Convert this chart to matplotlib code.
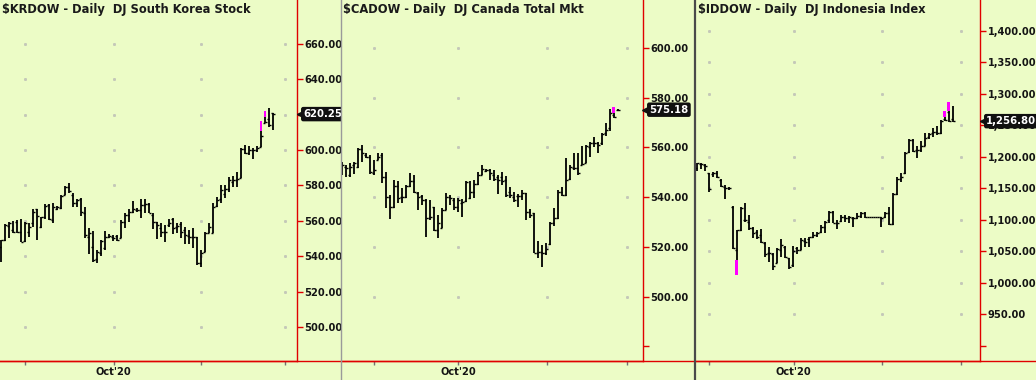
import numpy as np
import matplotlib.pyplot as plt
from matplotlib.lines import Line2D

# ---- $KRDOW - DJ South Korea Stock, daily bars ----
kr_open = [545.0, 549.0, 557.0, 554.8, 559.1, 553.9, 548.6, 553.9, 558.6, 566.5,
           556.7, 562.3, 568.9, 560.5, 566.5, 567.0, 574.6, 578.9, 574.6, 570.2,
           572.1, 564.2, 551.0, 545.4, 538.2, 541.6, 544.4, 551.0, 551.0, 551.4,
           550.1, 559.5, 563.3, 565.2, 566.1, 566.0, 568.9, 569.5, 563.3, 559.5,
           555.8, 553.9, 557.6, 560.8, 556.7, 558.2, 554.8, 551.4, 551.0, 550.7,
           536.0, 542.6, 553.3, 553.3, 568.4, 572.1, 575.2, 577.8, 582.1, 583.1,
           584.0, 600.4, 598.5, 600.0, 600.0, 601.5, 615.5, 617.3, 620.7]
kr_high = [549.2, 558.0, 559.5, 559.9, 560.5, 560.8, 559.5, 558.6, 566.5, 566.7,
           562.3, 569.3, 569.5, 569.9, 568.4, 574.6, 579.7, 581.2, 575.5, 572.1,
           572.7, 568.0, 555.7, 554.4, 543.5, 549.2, 554.4, 552.4, 552.0, 552.0,
           560.5, 564.2, 566.5, 571.2, 567.0, 572.1, 572.1, 569.9, 564.2, 559.5,
           558.9, 557.6, 560.8, 561.4, 558.9, 559.5, 556.7, 554.8, 555.7, 551.0,
           543.5, 553.9, 558.9, 569.9, 573.6, 580.2, 580.2, 584.9, 585.3, 587.8,
           600.9, 602.8, 602.3, 600.9, 602.3, 616.6, 622.0, 623.5, 621.1]
kr_low = [536.9, 548.6, 550.5, 552.9, 552.9, 548.2, 548.2, 551.0, 556.3, 549.2,
          555.7, 560.8, 560.5, 559.0, 566.1, 566.5, 574.6, 575.5, 567.6, 568.0,
          562.7, 550.1, 541.2, 536.9, 536.4, 540.1, 543.5, 550.1, 548.8, 548.6,
          550.1, 555.7, 559.5, 564.6, 565.2, 561.4, 564.2, 564.2, 555.2, 549.5,
          551.0, 548.2, 556.7, 552.4, 553.3, 550.1, 546.7, 546.7, 544.5, 535.0,
          534.1, 542.6, 553.3, 552.9, 567.6, 569.9, 572.7, 576.5, 578.9, 579.3,
          584.0, 597.7, 597.2, 594.7, 599.1, 601.5, 615.1, 613.2, 611.3]
kr_close = [549.0, 557.5, 558.6, 553.9, 553.9, 548.2, 559.0, 556.7, 565.2, 562.7,
            562.0, 568.4, 560.8, 567.6, 568.0, 574.0, 578.9, 577.0, 569.9, 571.8,
            565.2, 552.0, 552.9, 537.9, 542.6, 548.8, 551.0, 551.4, 550.1, 549.2,
            559.5, 563.3, 565.2, 566.5, 566.1, 568.9, 569.5, 564.6, 559.5, 557.6,
            553.9, 553.9, 558.6, 555.8, 557.1, 553.9, 552.0, 551.0, 550.7, 536.0,
            542.0, 553.3, 556.7, 568.0, 571.8, 577.4, 577.8, 583.1, 583.1, 583.4,
            600.4, 598.1, 600.0, 600.0, 600.9, 607.9, 616.0, 614.1, 620.25]
kr_pink_bar = [65, 66]
kr_pink_low = [610.9, 618.8]
kr_pink_high = [616.6, 622.0]
kr_yticks = [500, 520, 540, 560, 580, 600, 620, 640, 660]

# ---- $CADOW - DJ Canada Total Mkt, daily bars ----
ca_open = [553.9, 552.3, 548.9, 553.0, 552.3, 559.3, 557.0, 556.3, 549.6, 555.0,
           557.0, 548.3, 540.2, 536.2, 544.3, 540.0, 540.0, 544.5, 546.3, 541.8,
           540.5, 538.9, 531.5, 536.2, 526.8, 527.5, 534.9, 540.0, 538.9, 536.2,
           537.5, 538.6, 539.6, 542.2, 545.3, 548.9, 550.7, 551.0, 548.9, 548.3,
           548.0, 546.9, 542.2, 540.2, 540.5, 540.5, 541.6, 534.2, 533.5, 517.7,
           518.1, 517.4, 521.2, 529.8, 531.5, 542.2, 540.9, 547.2, 551.6, 551.6,
           553.0, 553.6, 560.3, 561.7, 561.7, 561.7, 565.7, 567.7, 573.1, 575.1]
ca_high = [554.3, 553.0, 553.6, 554.3, 559.7, 561.0, 557.7, 557.0, 555.0, 557.7,
           557.7, 550.3, 540.9, 546.9, 546.3, 543.6, 544.9, 549.6, 548.9, 542.2,
           540.9, 539.2, 538.9, 536.2, 532.9, 535.5, 541.6, 540.9, 539.6, 539.6,
           539.2, 546.3, 546.3, 547.0, 550.3, 553.0, 551.2, 551.2, 551.0, 549.0,
           550.3, 548.5, 544.2, 542.2, 541.3, 542.9, 541.8, 535.1, 533.8, 522.5,
           520.8, 521.7, 530.2, 535.5, 542.9, 544.2, 555.6, 553.0, 557.6, 557.9,
           560.6, 561.0, 562.3, 564.1, 562.3, 566.0, 569.7, 575.3, 576.4, 575.3]
ca_low = [548.9, 548.3, 548.3, 549.3, 551.6, 554.3, 555.6, 549.2, 548.9, 555.0,
          545.6, 535.5, 531.1, 535.5, 537.5, 537.5, 539.6, 544.0, 541.8, 534.9,
          536.9, 523.8, 530.9, 526.2, 523.5, 527.5, 534.9, 536.9, 534.9, 534.2,
          531.9, 538.2, 539.2, 539.6, 545.0, 548.9, 550.3, 546.9, 546.3, 541.3,
          544.9, 540.2, 539.5, 538.2, 536.2, 538.9, 530.8, 531.5, 517.4, 515.4,
          511.8, 516.8, 520.8, 528.2, 531.1, 540.5, 540.5, 546.9, 550.9, 549.0,
          553.0, 553.6, 556.0, 560.1, 557.9, 561.0, 564.6, 566.8, 571.7, 574.8]
ca_close = [553.0, 551.6, 552.3, 553.6, 559.3, 557.7, 556.3, 550.3, 551.0, 556.3,
            548.3, 540.2, 536.2, 544.5, 539.6, 540.0, 544.5, 546.3, 542.2, 540.2,
            538.9, 531.5, 532.2, 526.8, 529.5, 534.9, 540.0, 539.6, 536.2, 538.9,
            538.2, 545.9, 542.2, 545.3, 548.9, 551.2, 551.0, 549.6, 547.2, 546.7,
            546.3, 540.9, 540.9, 538.9, 540.5, 541.6, 534.2, 532.9, 517.7, 518.1,
            517.4, 519.1, 529.8, 531.5, 542.2, 540.9, 546.9, 552.3, 551.6, 549.6,
            553.4, 560.6, 561.7, 561.7, 561.0, 565.4, 567.0, 574.0, 572.1, 575.18]
ca_pink_bar = [68]
ca_pink_low = [574.0]
ca_pink_high = [576.4]
ca_yticks = [480, 500, 520, 540, 560, 580, 600]

# ---- $IDDOW - DJ Indonesia Index, daily bars ----
id_open = [1181.9, 1188.8, 1187.2, 1173.9, 1172.9, 1173.9, 1163.4, 1151.7, 1150.1, 1121.0,
           1052.2, 1084.0, 1099.8, 1097.2, 1086.6, 1081.3, 1076.0, 1062.8, 1046.9, 1045.8,
           1031.0, 1052.2, 1057.5, 1038.9, 1028.4, 1054.8, 1052.2, 1067.0, 1069.1, 1072.3,
           1076.0, 1081.3, 1089.2, 1099.9, 1113.1, 1094.5, 1098.8, 1105.1, 1102.5, 1103.5,
           1102.5, 1106.2, 1110.4, 1104.1, 1104.1, 1104.1, 1104.1, 1104.1, 1111.5, 1093.5,
           1141.1, 1164.4, 1174.0, 1208.4, 1226.9, 1211.0, 1211.0, 1217.4, 1232.2, 1237.5,
           1240.1, 1237.5, 1259.7, 1271.9, 1259.7]
id_high = [1190.9, 1190.9, 1188.8, 1175.0, 1176.6, 1178.2, 1164.4, 1155.4, 1151.7, 1122.1,
           1084.0, 1121.0, 1126.3, 1107.8, 1088.2, 1084.0, 1085.0, 1065.4, 1057.5, 1046.9,
           1054.8, 1069.1, 1058.5, 1038.9, 1058.5, 1057.5, 1070.7, 1070.7, 1073.4, 1081.3,
           1081.3, 1091.9, 1098.8, 1114.7, 1114.7, 1099.9, 1107.8, 1107.8, 1106.2, 1105.1,
           1110.4, 1113.1, 1113.1, 1104.1, 1104.1, 1104.1, 1104.1, 1113.1, 1121.0, 1142.2,
           1167.6, 1175.0, 1208.4, 1228.0, 1228.0, 1217.4, 1225.8, 1238.5, 1238.5, 1245.4,
           1249.1, 1258.7, 1273.5, 1287.8, 1280.9]
id_low = [1178.2, 1180.3, 1178.2, 1144.8, 1167.6, 1166.0, 1152.8, 1132.6, 1147.5, 1053.2,
          1012.5, 1082.9, 1097.2, 1084.0, 1070.7, 1069.1, 1062.8, 1041.6, 1033.7, 1020.4,
          1031.0, 1040.5, 1038.9, 1021.5, 1025.7, 1045.8, 1052.2, 1057.5, 1057.5, 1070.7,
          1073.4, 1079.7, 1078.6, 1095.6, 1094.5, 1085.0, 1097.2, 1097.2, 1094.5, 1089.3,
          1100.9, 1102.5, 1102.5, 1104.1, 1104.1, 1104.1, 1089.3, 1102.5, 1091.9, 1091.9,
          1139.6, 1160.7, 1172.9, 1206.8, 1208.4, 1197.8, 1208.4, 1217.4, 1228.0, 1231.1,
          1234.8, 1236.4, 1257.6, 1256.0, 1256.0]
id_close = [1189.8, 1188.8, 1185.6, 1148.5, 1173.9, 1168.6, 1153.8, 1150.1, 1151.2, 1054.8,
            1084.0, 1118.4, 1099.8, 1086.6, 1078.6, 1073.4, 1065.4, 1045.8, 1047.9, 1026.8,
            1053.2, 1060.1, 1041.6, 1025.7, 1051.1, 1052.2, 1068.1, 1065.4, 1072.3, 1076.0,
            1078.6, 1089.2, 1097.2, 1113.1, 1095.6, 1094.5, 1105.1, 1102.5, 1104.1, 1102.5,
            1106.2, 1110.4, 1104.1, 1104.1, 1104.1, 1104.1, 1102.5, 1111.5, 1093.5, 1141.1,
            1164.4, 1167.6, 1206.8, 1226.9, 1210.0, 1211.0, 1217.4, 1229.5, 1236.4, 1240.1,
            1237.5, 1257.6, 1258.7, 1257.6, 1256.8]
id_pink_bar = [10, 62, 63]
id_pink_low = [1012.5, 1262.9, 1273.5]
id_pink_high = [1036.3, 1273.5, 1287.8]
id_yticks = [900, 950, 1000, 1050, 1100, 1150, 1200, 1250, 1300, 1350, 1400]

month_labels = ['', "Oct'20", '', '']

BG = '#ECFCC6'
RED = '#E00000'
W, H = 1036, 380

fig = plt.figure(figsize=(W / 100, H / 100), dpi=100, facecolor=BG)


def draw_panel(left, width, title, o, h, l, c, pink_bar, pink_lo, pink_hi,
               yticks, ylim, xlim, month_pos, fmt, first_unlabeled):
    ax = fig.add_axes([left / W, 19 / H, width / W, 361 / H])
    ax.set_facecolor(BG)
    x = np.arange(len(c))
    ax.vlines(x, l, h, color='black', lw=1.3, zorder=3)
    ax.hlines(o, x - 0.45, x, color='black', lw=1.0, zorder=3)
    ax.hlines(c, x, x + 0.45, color='black', lw=1.0, zorder=3)
    ax.bar(pink_bar, np.array(pink_hi) - np.array(pink_lo), bottom=pink_lo,
           width=0.7, color='#FF00FF', zorder=4)

    # sparse dotted grid: only dots where month ticks meet price ticks
    gx, gy = np.meshgrid(month_pos, yticks[1 if first_unlabeled else 0:])
    ax.plot(gx.ravel(), gy.ravel(), ls='none', marker='s', ms=1.1,
            color='#C4C8B8', zorder=1)

    ax.set_xlim(*xlim)
    ax.set_ylim(*ylim)
    for s in ['top', 'left']:
        ax.spines[s].set_visible(False)
    ax.spines['right'].set_color(RED)
    ax.spines['bottom'].set_color(RED)
    ax.spines['right'].set_linewidth(1.0)
    ax.spines['bottom'].set_linewidth(1.0)

    ax.yaxis.tick_right()
    labels = [fmt.format(v) for v in yticks]
    if first_unlabeled:
        labels[0] = ''
    ax.set_yticks(yticks, labels, fontsize=7.1, fontweight='bold', color='#141414')
    ax.tick_params(axis='y', length=4, width=1, color=RED, pad=1.5)
    ax.set_xticks(month_pos, month_labels, fontsize=7.1, fontweight='bold', color='#141414')
    ax.tick_params(axis='x', length=3, width=1, color='#707070', pad=1.5)

    ax.text(2 / width, 1 - 9.5 / 361, title, transform=ax.transAxes,
            fontsize=8.3, fontweight='bold', color='#1a1a1a', va='center', ha='left')

    # last price tag
    ax.annotate(fmt.format(c[-1]), xy=(1, c[-1]), xycoords=('axes fraction', 'data'),
                xytext=(4.5, 0), textcoords='offset points', ha='left', va='center',
                fontsize=7.3, fontweight='bold', color='white', zorder=10,
                annotation_clip=False,
                bbox=dict(boxstyle='round,pad=0.22', fc='#101010', ec='none'))
    ax.plot([1.0 + 2.5 / width], [c[-1]], marker='<', ms=5, color='#101010',
            transform=ax.get_yaxis_transform(), clip_on=False, zorder=9)
    return ax


draw_panel(0, 297, '$KRDOW - Daily  DJ South Korea Stock',
           kr_open, kr_high, kr_low, kr_close, kr_pink_bar, kr_pink_low, kr_pink_high,
           kr_yticks, (480.8, 684.7), (-0.25, 74.0), [6.0, 28.2, 50.0, 71.0],
           '{:.2f}', False)
draw_panel(341, 302, '$CADOW - Daily  DJ Canada Total Mkt',
           ca_open, ca_high, ca_low, ca_close, ca_pink_bar, ca_pink_low, ca_pink_high,
           ca_yticks, (474.1, 619.3), (-0.175, 75.3), [8.15, 29.15, 51.25, 71.25],
           '{:.2f}', True)
draw_panel(696, 284, '$IDDOW - Daily  DJ Indonesia Index',
           id_open, id_high, id_low, id_close, id_pink_bar, id_pink_low, id_pink_high,
           id_yticks, (875.9, 1449.2), (-0.175, 70.8), [3.15, 24.25, 46.25, 66.1],
           '{:,.2f}', True)

# full-width red base line and panel separators
fig.add_artist(Line2D([0, 1], [19 / H, 19 / H], color=RED, lw=1.0))
fig.add_artist(Line2D([340.5 / W, 340.5 / W], [0, 1], color='#9A9A9A', lw=1.0))
fig.add_artist(Line2D([694.5 / W, 694.5 / W], [0, 1], color='#4A4A4A', lw=1.6))

fig.savefig('out.png', dpi=100, facecolor=BG)
